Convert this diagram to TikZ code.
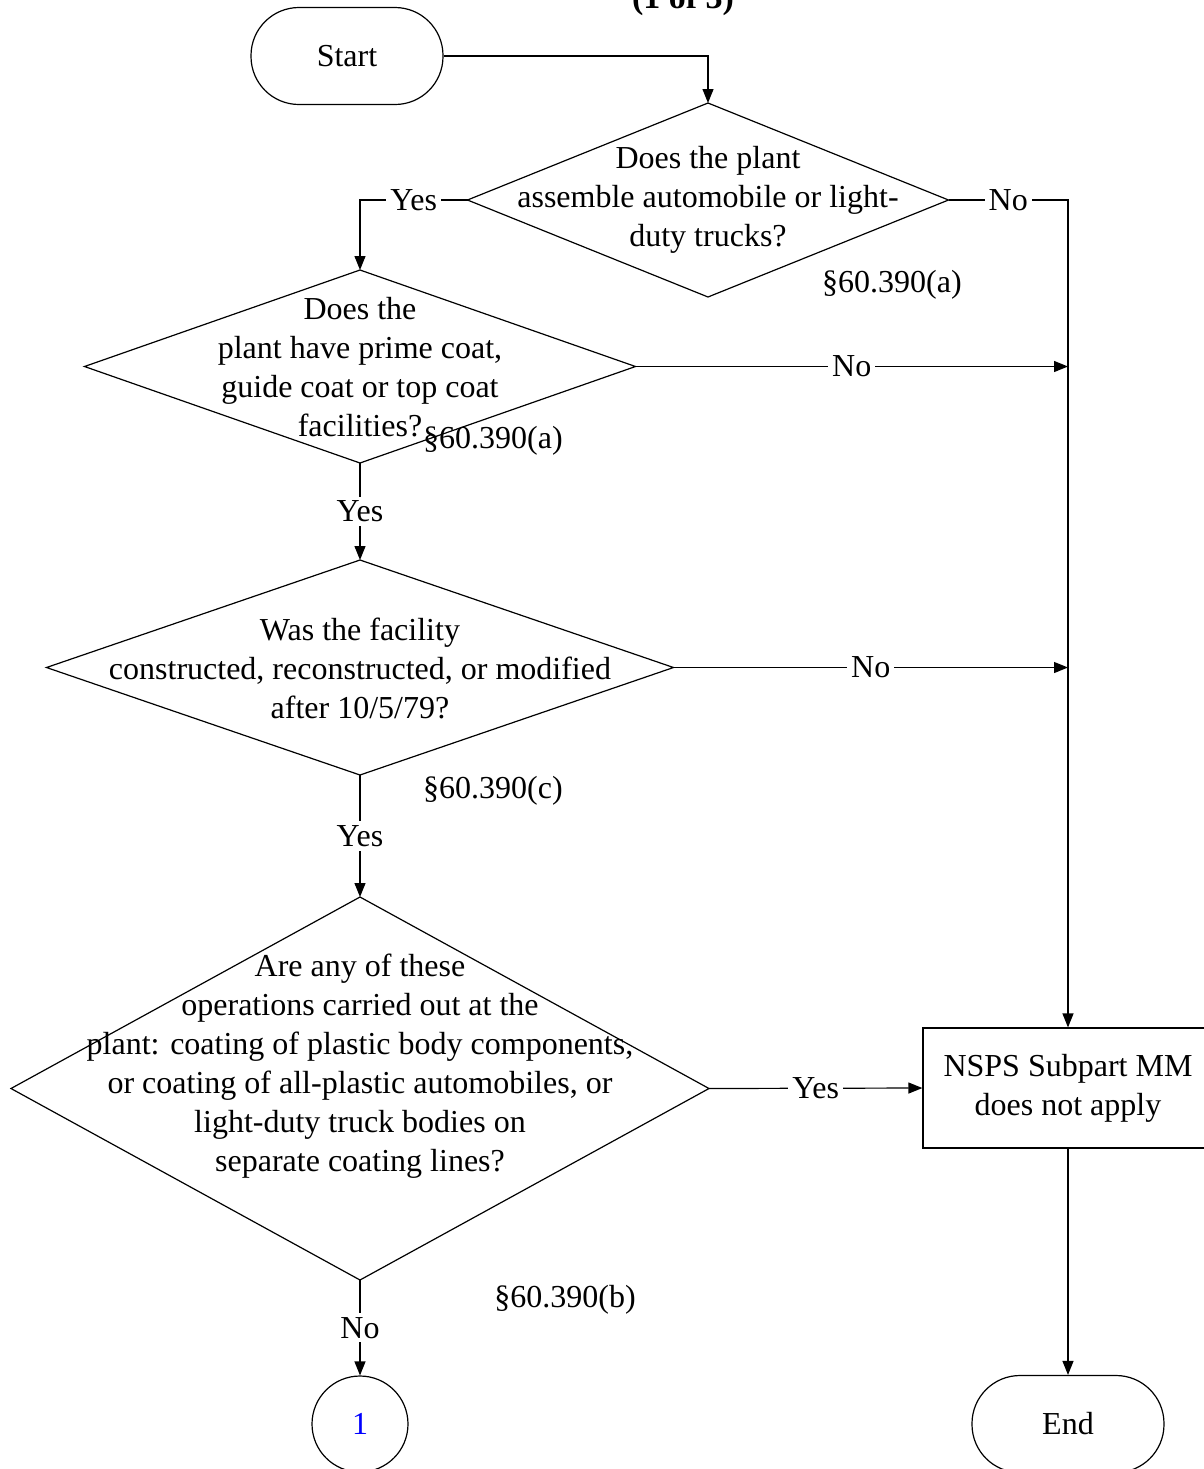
\documentclass[tikz,border=0pt]{standalone}
\usepackage{fontspec}
\setmainfont{Liberation Serif}
\usetikzlibrary{arrows.meta, shapes.geometric}

\begin{document}
\begin{tikzpicture}[x=0.5pt, y=-0.5pt, ->, >={Triangle[length=7pt, width=5.5pt]},
			line width=0.6pt,
			every node/.style={font=\fontsize{16}{19.5}\selectfont},
			term/.style={draw, rounded corners=24pt, minimum width=96pt, minimum height=48.5pt, inner sep=0pt},
			decision/.style={draw, diamond, inner sep=0pt, outer sep=0pt},
			question/.style={align=center},
			lbl/.style={fill=white, inner sep=2pt}]
			
			\useasboundingbox (0,0) rectangle (1204,1469);
			
			% Titolo (tagliato in alto)
			\node[anchor=base, font=\fontsize{17}{20}\selectfont\bfseries] (title) at (683,8) {(1 of 3)};
			
			% Inizio e fine
			\node[term] (start) at (347,56) {Start};
			\node[term] (endt) at (1068,1424) {End};
			\node[draw, circle, minimum size=48pt, inner sep=0pt, text=blue] (conn) at (360,1424) {1};
			\node[draw, align=center, minimum width=145pt, minimum height=60pt, inner sep=0pt] (nsps) at (1068,1088) {NSPS Subpart MM\\does not apply};
			
			% Domande
			\node[decision, minimum width=240.5pt, minimum height=97pt] (d1) at (708,200) {};
			\node[question] (q1) at (708,200) {Does the plant\\assemble automobile or light-\\duty trucks?};
			\node (r1) at (892,285) {§60.390(a)};
			
			\node[decision, minimum width=275.5pt, minimum height=96.5pt] (d2) at (360,366.5) {};
			\node[question] (q2) at (360,367) {Does the\\plant have prime coat,\\guide coat or top coat\\facilities?};
			\node (r2) at (493,441) {§60.390(a)};
			
			\node[decision, minimum width=313.5pt, minimum height=107.5pt] (d3) at (360,667.5) {};
			\node[question] (q3) at (360,668) {Was the facility\\constructed, reconstructed, or modified\\after 10/5/79?};
			\node (r3) at (493,791) {§60.390(c)};
			
			\node[decision, minimum width=349pt, minimum height=191.5pt] (d4) at (360,1088.5) {};
			\node[question] (q4) at (360,1066) {Are any of these\\operations carried out at the\\plant: coating of plastic body components,\\or coating of all-plastic automobiles, or\\light-duty truck bodies on\\separate coating lines?};
			\node (r4) at (565,1300) {§60.390(b)};
			
			% --- Collegamenti ---
			\draw (start.east) -| (d1.north);
			\draw (d1.west) -| node[lbl, pos=0.25]{Yes} (d2.north);
			\draw (d1.east) -| node[lbl, pos=0.25]{No} (nsps.north);
			
			\draw (d2.east) -- node[lbl]{No} (d2.east -| nsps.north);
			\draw (d2.south) -- node[lbl]{Yes} (d3.north);
			
			\draw (d3.east) -- node[lbl]{No} (d3.east -| nsps.north);
			\draw (d3.south) -- node[lbl]{Yes} (d4.north);
			
			\draw (d4.east) -- node[lbl]{Yes} (nsps.west);
			\draw (d4.south) -- node[lbl]{No} (conn.north);
			
			\draw (nsps.south) -- (endt.north);
			
		\end{tikzpicture}
\end{document}
